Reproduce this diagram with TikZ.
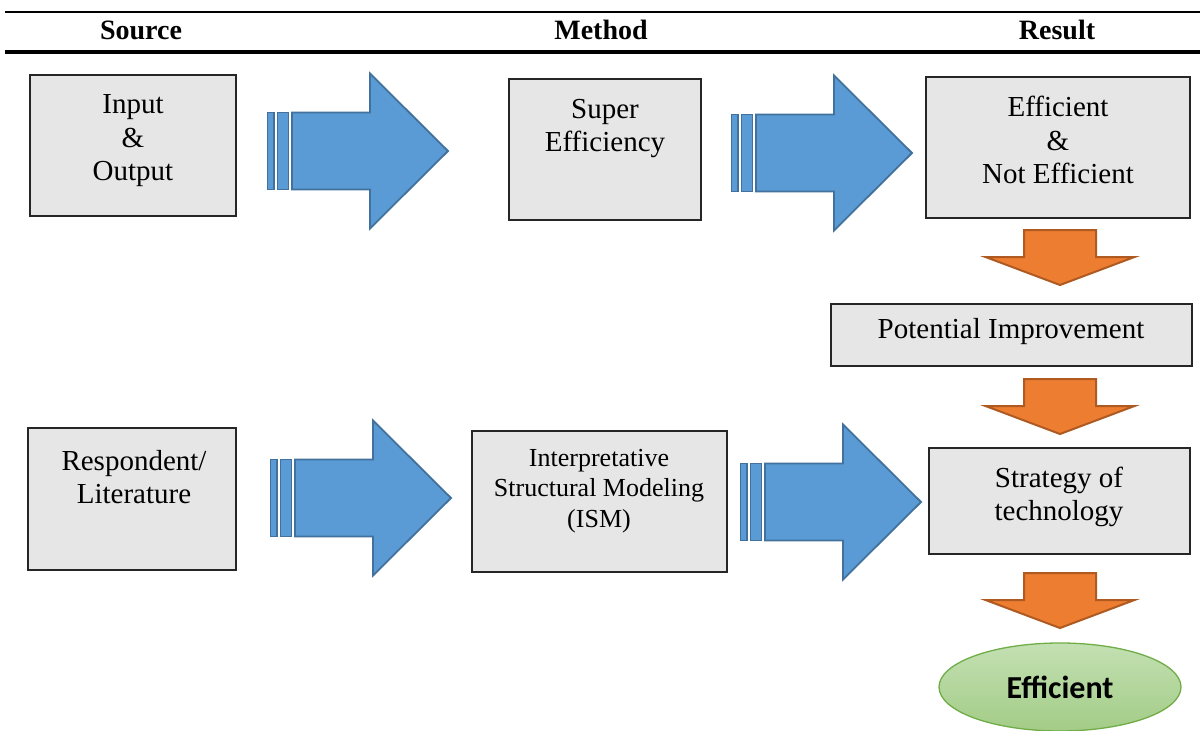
\documentclass[tikz,border=0pt]{standalone}
\usepackage{fontspec}
\setmainfont{Liberation Serif}
\newfontfamily\carlfont{Carlito}
\usetikzlibrary{shapes.geometric}
\definecolor{boxfill}{RGB}{231,230,230}
\definecolor{bluefill}{RGB}{91,155,213}
\definecolor{blueline}{RGB}{65,113,156}
\definecolor{orangefill}{RGB}{237,125,49}
\definecolor{orangeline}{RGB}{174,90,33}
\definecolor{greentop}{RGB}{195,224,178}
\definecolor{greenbot}{RGB}{163,204,135}
\definecolor{greenline}{RGB}{112,173,71}
\tikzset{
  box/.style={draw=black!85, line width=1.3pt, fill=boxfill, inner sep=0pt},
  txt/.style={align=center, font=\fontsize{29}{33.5}\selectfont, inner sep=0pt},
  smalltxt/.style={align=center, font=\fontsize{26}{30.5}\selectfont, inner sep=0pt},
  head/.style={font=\fontsize{28}{32}\selectfont\bfseries, inner sep=0pt},
  bluearr/.pic={
    \begin{scope}[fill=bluefill, draw=blueline, line width=1.8pt, line join=miter]
      \filldraw (0.5,-38.5) rectangle (7,38.5);
      \filldraw (10.5,-38.5) rectangle (21.5,38.5);
      \filldraw (25,-38.5) -- (103,-38.5) -- (103,-77.5) -- (181,0) -- (103,77.5) -- (103,38.5) -- (25,38.5) -- cycle;
    \end{scope}
  },
  orangearr/.pic={
    \filldraw[fill=orangefill, draw=orangeline, line width=2pt]
      (-36,0) -- (36,0) -- (36,27) -- (74.5,27) -- (0,55) -- (-74.5,27) -- (-36,27) -- cycle;
  }
}
\begin{document}
\begin{tikzpicture}[x=1pt, y=-1pt]
\useasboundingbox[fill=white] (0,0) rectangle (1200,731);
% header
\coordinate (hl1) at (5,12);
\coordinate (hr1) at (1200,12);
\coordinate (hl2) at (5,52);
\coordinate (hr2) at (1200,52);
\draw[line width=2.5pt] (hl1) -- (hr1);
\draw[line width=4.5pt] (hl2) -- (hr2);
\node[head] (hsource) at (141,30) {Source};
\node[head] (hmethod) at (601,30) {Method};
\node[head] (hresult) at (1057,30) {Result};

% boxes
\node[box, minimum width=206pt, minimum height=141pt] (inbox) at (133,145.5) {};
\node[txt] (intxt) at (133,141) {Input\\\&\\Output};
\node[box, minimum width=192pt, minimum height=141pt] (sebox) at (605,149.5) {};
\node[txt] (setxt) at (605,128.5) {Super\\Efficiency};
\node[box, minimum width=264pt, minimum height=141pt] (efbox) at (1058,147.5) {};
\node[txt] (eftxt) at (1058,140) {Efficient\\\&\\Not Efficient};
\node[box, minimum width=361pt, minimum height=62pt] (pibox) at (1011.5,335) {};
\node[txt] (pitxt) at (1011,332) {Potential Improvement};
\node[box, minimum width=208pt, minimum height=142pt] (rlbox) at (132,499) {};
\node[txt] (rltxt) at (134,477) {Respondent/\\Literature};
\node[box, minimum width=255pt, minimum height=141pt] (ismbox) at (599.5,501.5) {};
\node[smalltxt] (ismtxt) at (599,491) {Interpretative\\Structural Modeling\\(ISM)};
\node[box, minimum width=261pt, minimum height=106pt] (stbox) at (1059.5,501) {};
\node[txt] (sttxt) at (1059,497) {Strategy of\\technology};
\node[ellipse, draw=greenline, line width=1.3pt, top color=greentop, bottom color=greenbot,
      minimum width=242pt, minimum height=88pt, inner sep=0pt] (effell) at (1060,687) {};
\node[font=\carlfont\bfseries\fontsize{32}{36}\selectfont, inner sep=0pt] (efftxt) at (1060,687) {Efficient};

% blue arrows
\pic at (267,151) {bluearr};
\pic at (731,153) {bluearr};
\pic at (270,498) {bluearr};
\pic at (740,502) {bluearr};
% orange arrows
\pic at (1060,230) {orangearr};
\pic at (1060,379) {orangearr};
\pic at (1060,573) {orangearr};
\end{tikzpicture}
\end{document}
